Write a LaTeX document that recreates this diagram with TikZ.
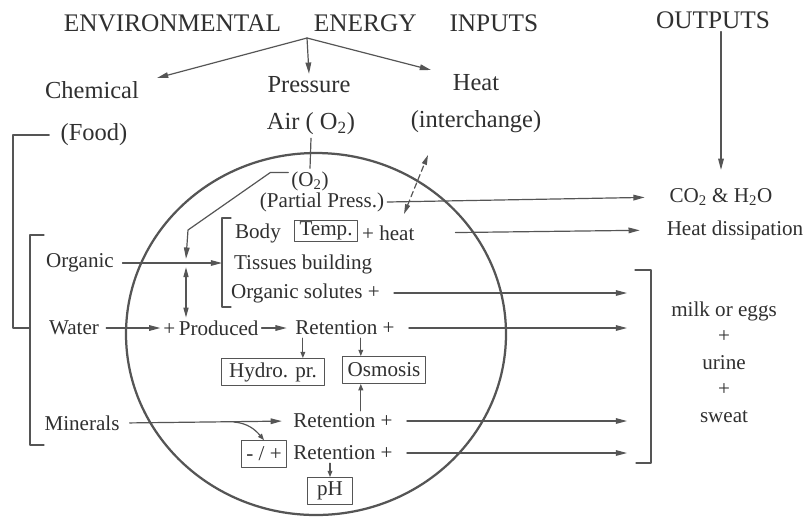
\documentclass[tikz,border=0pt]{standalone}
\usepackage{fontspec}
\setmainfont{Liberation Serif}
\usetikzlibrary{arrows.meta,calc}
\definecolor{InkText}{HTML}{303030}
\definecolor{InkLine}{HTML}{555555}

\begin{document}
\begin{tikzpicture}[x=0.025cm,y=-0.025cm,line cap=round,line join=round,
  every node/.style={text=InkText,inner sep=2pt},
  head/.style={font=\fontsize{18}{20}\selectfont},
  big/.style={font=\fontsize{17.4}{20}\selectfont},
  txt/.style={font=\fontsize{15}{18}\selectfont},
  tag/.style={txt,draw=InkLine,line width=0.8pt,inner xsep=3.5pt,inner ysep=0pt,minimum height=19pt},
  ln/.style={InkLine,line width=0.85pt},
  arr/.style={ln,-{Triangle[length=8pt,width=4pt]}},
  arrd/.style={ln,{Triangle[length=7pt,width=3.6pt]}-{Triangle[length=7pt,width=3.6pt]}},
  arrs/.style={ln,-{Triangle[length=4.5pt,width=3.4pt]}}]
  \useasboundingbox (0,0) rectangle (806,516);
  \fill[white] (0,0) rectangle (806,516);
  % inputs and outputs
  \node[head] (title) at (301,23) {ENVIRONMENTAL\hspace{1.3em}ENERGY\hspace{1.3em}INPUTS};
  \node[head] (outputs) at (713,20) {OUTPUTS};
  \coordinate (fork) at (307,38);\coordinate (chemtip) at (157,78);\coordinate (heattip) at (431,70);
  \node[big] (chem) at (92,90) {Chemical};\node[big] (press) at (309,85) {Pressure};\node[big] (heat) at (476,83) {Heat};
  \node[big] (food) at (94,135) {(Food)};\node[big] (air) at (311,124) {Air ( O\textsubscript{2})};\node[big] (inter) at (476,122) {(interchange)};
  \draw[arr] (fork) -- (chemtip);\draw[arr] (fork) -- (press.north);\draw[arr] (fork) -- (heattip);
  % the body
  \draw[InkLine,line width=1.6pt] (316,334) ellipse [x radius=190,y radius=181];
  \coordinate (jn) at (186,263);\coordinate (bt) at (222,218);\coordinate (bb) at (222,307);
  \coordinate (hx1) at (404,214);\coordinate (hx2) at (428,155);\coordinate (mb) at (234,422);
  \node[txt] (o2in) at (310,181) {(O\textsubscript{2})};
  \node[txt] (partial) at (322,202) {(Partial Press.)};
  \node[txt,anchor=west] (bod) at (232,233) {Body};\node[tag,inner ysep=1pt,minimum height=0pt] (temp) at (326,231) {Temp.};
  \node[txt,anchor=west] (plush) at (359,233) {+ heat};
  \node[txt,anchor=west] (tis) at (231,264) {Tissues building};
  \node[txt,anchor=west] (sol) at (228,293) {Organic solutes +};
  \node[txt] (org) at (80,263) {Organic};\node[txt] (wat) at (74,328) {Water};\node[txt] (mins) at (82,423) {Minerals};
  \node[txt] (prod) at (211,328) {+\,Produced};
  \node[txt] (ret1) at (345,328) {Retention +};\node[txt] (ret2) at (343,421) {Retention +};\node[txt] (ret3) at (343,453) {Retention +};
  \node[tag,inner xsep=5.5pt] (hyd) at (273,372) {Hydro. pr.};\node[tag] (osm) at (384,370) {Osmosis};
  \node[tag] (pm) at (264,454) {- / +};\node[tag,minimum width=32pt] (ph) at (330,491) {pH};
  \draw[ln] (air.south) -- (o2in.north);
  \draw[arr] ([yshift=6pt]o2in.west) -- ++(-18,0) -- (188,230) -- ([yshift=3pt]jn);
  \draw[arrd] ([yshift=-3pt]jn) -- (jn |- prod.north);
  \draw[ln] ($(bt)+(9,0)$) -- (bt) -- (bb) -- ++(9,0);
  \draw[arr,shorten <=4pt] (org.east) -- (org.east -| bt);
  \draw[ln,dashed,dash pattern=on 4pt off 2.5pt,arrd] (hx1) -- (hx2);
  \draw[arr,shorten <=3pt] (wat.east) -- (prod.west);
  \draw[arr,shorten >=4pt] (prod.east) -- (ret1.west);
  \draw[arrs] ($(ret1.south west)!.1!(ret1.south east)$) coordinate (h1) -- (h1 |- hyd.north);
  \draw[arrs] ($(ret1.south west)!.65!(ret1.south east)$) coordinate (h2) -- (h2 |- osm.north);
  \draw[arrs] (h2 |- ret2.north) -- (h2 |- osm.south);
  \draw[arr,shorten <=5pt,shorten >=6pt] (mins.east) -- (ret2.west);
  \draw[arrs] (mb) to[out=-5,in=130] (pm.north);
  \draw[arrs] (ret3.south -| ph.north) -- (ph.north);
  % left brackets
  \coordinate (lt) at (30,235);\coordinate (lb) at (30,445);
  \draw[ln] ($(lt)+(14,0)$) -- (lt) -- (lb) -- ++(14,0);
  \draw[ln,shorten <=6pt] (food.west) -| (13,328) -- (wat -| lt);
  % outputs side
  \node[txt] (co2) at (721,197) {CO\textsubscript{2} \& H\textsubscript{2}O};
  \node[txt] (dissip) at (735,230) {Heat dissipation};
  \node[txt,align=center,font=\fontsize{15}{18.8}\selectfont] (sinks) at (724,362) {milk or eggs\\+\\urine\\+\\sweat};
  \coordinate (rt) at (651,270);\coordinate (rb) at (651,463);\coordinate (sink) at (627,0);
  \draw[ln] ($(rt)+(-16,0)$) -- (rt) -- (rb) -- ++(-15,0);
  \draw[arr,shorten >=11pt] (outputs.south -| co2.north) -- (co2.north);
  \draw[arr,shorten >=15.5pt] (partial.east) -- (co2.west);
  \draw[arr,shorten <=27pt,shorten >=17pt] (plush.east) -- (dissip.west);
  \foreach \n in {sol,ret1,ret2,ret3}{\draw[arr,shorten <=8pt] (\n.east) -- (\n.east -| sink);}
\end{tikzpicture}
\end{document}
